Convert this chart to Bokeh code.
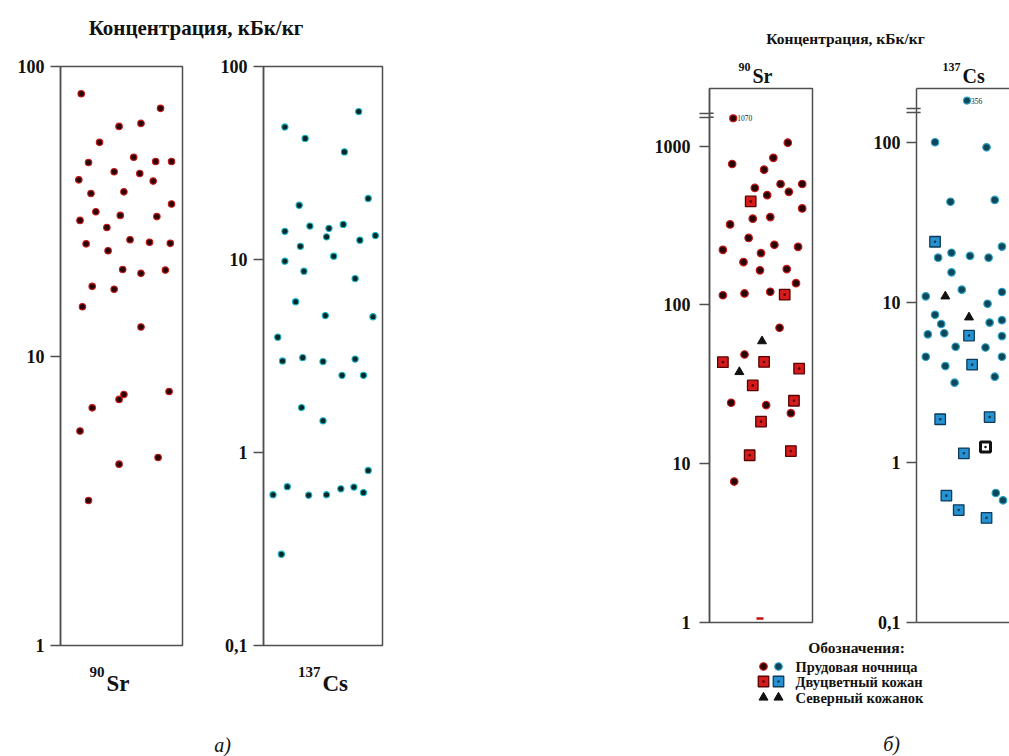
from bokeh.plotting import figure
from bokeh.layouts import row, column
from bokeh.models import FixedTicker, Range1d, CustomJSTickFormatter, LinearAxis
from bokeh.core.properties import value
from bokeh.embed import file_html
from bokeh.resources import INLINE

FONT = "Liberation Serif"

# ---------------- data (concentration, kBq/kg; jitter position across box, 0-100) ----------------
# panel а) 90Sr
sr_a_conc = [80.5, 71.7, 62.1, 63.6, 54.7, 46.6, 48.6, 47.0, 47.0, 40.6, 43.3, 42.7, 40.2, 36.4,
             36.9, 33.5, 31.5, 29.4, 30.6, 30.3, 27.8, 24.4, 25.2, 24.7, 24.5, 23.1, 19.9, 19.3,
             19.8, 17.4, 17.0, 14.8, 12.6, 7.36, 7.08, 7.54, 6.62, 5.51, 4.46, 4.23, 3.17]
sr_a_pos = [17, 82, 48, 66, 32, 23, 60, 78, 91, 15, 44, 65, 76, 25, 52, 91, 29, 16, 49, 79, 38,
            21, 57, 73, 90, 39, 51, 66, 86, 26, 44, 18, 66, 52, 48, 89, 26, 16, 80, 48, 23]
# panel а) 137Cs
cs_a_conc = [58.4, 48.6, 42.4, 36.1, 20.7, 19.1, 14.0, 14.9, 14.5, 15.2, 13.1, 11.7, 12.6, 13.3,
             9.8, 10.4, 8.7, 7.96, 6.04, 5.12, 5.05, 3.96, 2.98, 3.10, 2.96, 3.05, 2.51, 2.51,
             1.71, 1.46, 0.807, 0.604, 0.665, 0.601, 0.604, 0.648, 0.662, 0.620, 0.297]
cs_a_pos = [80, 18, 35, 68, 88, 30, 18, 39, 55, 67, 53, 31, 81, 94, 18, 59, 34, 77, 27, 52, 92,
            12, 16, 33, 50, 77, 66, 84, 32, 50, 88, 8, 20, 38, 53, 65, 76, 84, 15]

# panel б) 90Sr
sr_b_bat_conc = [1050, 771, 843, 710, 545, 577, 515, 577, 491, 405, 349, 357, 321, 264, 222, 212,
                 239, 232, 186, 165, 168, 137, 115, 118, 121, 71.8, 48.7, 24.2, 23.4, 20.8, 7.72]
sr_b_bat_pos = [76, 22, 62, 53, 44, 69, 77, 90, 56, 90, 42, 59, 20, 38, 13, 50, 63, 86, 33, 49,
                75, 84, 13, 34, 59, 68, 34, 21, 55, 79, 24]
sr_b_low_conc = [1.06]          # value drawn at the bottom of the box
sr_b_low_pos = [49]
sr_b_ves_conc = [448, 116, 43.6, 43.7, 39.7, 31.1, 24.9, 18.4, 11.3, 12.0]
sr_b_ves_pos = [40, 73, 13, 53, 87, 42, 82, 50, 39, 79]
sr_b_epn_conc = [59.1, 37.8]
sr_b_epn_pos = [51, 29]
sr_b_outlier_value = 1070
sr_b_outlier_pos = 23

# panel б) 137Cs
cs_b_bat_conc = [100, 93, 42.5, 43.6, 19.0, 20.4, 19.5, 19.0, 22.3, 15.4, 12.0, 10.9, 11.6, 9.8,
                 8.36, 7.32, 7.47, 7.74, 6.31, 6.41, 6.15, 5.28, 5.22, 4.57, 4.57, 4.0, 3.15, 3.43,
                 0.644, 0.58]
cs_b_bat_pos = [18, 68, 33, 76, 21, 34, 52, 70, 83, 34, 44, 9, 83, 69, 18, 24, 71, 83, 11, 27,
                83, 38, 67, 9, 83, 28, 37, 76, 77, 84]
cs_b_ves_conc = [23.9, 6.2, 4.08, 1.86, 1.92, 1.14, 0.62, 0.504, 0.45]
cs_b_ves_pos = [18, 51, 54, 23, 71, 46, 29, 41, 68]
cs_b_odd_conc = [1.25]
cs_b_odd_pos = [67]
cs_b_epn_conc = [10.9, 8.06]
cs_b_epn_pos = [28, 51]
cs_b_outlier_value = 356
cs_b_outlier_pos = 49

legend_names = ["Прудовая ночница", "Двуцветный кожан", "Северный кожанок"]

# ---------------- styles ----------------
AX = "#4f4f4f"
INK = "#111111"
RED_FILL, RED_LINE = "#2b0505", "#c81818"
CYA_FILL, CYA_LINE = "#032626", "#19b5c4"
SQR_FILL, SQR_LINE = "#d41c1c", "#5a0000"
BLU_FILL, BLU_LINE = "#0f4658", "#2aa3c6"
BSQ_FILL, BSQ_LINE = "#2792d2", "#0d3a58"
TRI = "#111111"

# axis-break display positions (where the off-scale values are drawn)
SR_B_BREAK, SR_B_OUT_Y = (1519, 1608), 1496
CS_B_BREAK, CS_B_OUT_Y = (153.6, 162.6), 182

FMT = """
const l = Math.log10(tick);
if (Math.abs(l - Math.round(l)) > 1e-6) { return ""; }
return String(tick).replace('.', ',');
"""


def box_fig(width, height, left, right, top, bottom, y0, y1, ticks, x1=100,
            outline=True, label_size="18px", standoff=6):
    p = figure(width=width, height=height, y_axis_type="log",
               x_range=Range1d(0, x1), y_range=Range1d(y0, y1),
               x_axis_location=None, output_backend="svg", toolbar_location=None,
               min_border_left=left, min_border_right=right,
               min_border_top=top, min_border_bottom=bottom)
    p.xgrid.visible = False
    p.ygrid.visible = False
    p.outline_line_color = AX if outline else None
    p.outline_line_width = 1.5
    ax = p.yaxis[0]
    ax.ticker = FixedTicker(ticks=ticks, minor_ticks=[])
    ax.formatter = CustomJSTickFormatter(code=FMT)
    ax.major_tick_out = 10
    ax.major_tick_in = 0
    ax.minor_tick_line_color = None
    ax.major_tick_line_color = AX
    ax.major_tick_line_width = 1.5
    ax.axis_line_color = AX
    ax.axis_line_width = 1.5
    ax.major_label_text_font = FONT
    ax.major_label_text_font_style = "bold"
    ax.major_label_text_font_size = label_size
    ax.major_label_text_color = INK
    ax.major_label_standoff = standoff
    return p


def canvas(width, height):
    p = figure(width=width, height=height, x_range=Range1d(0, width), y_range=Range1d(0, height),
               x_axis_location=None, y_axis_location=None, output_backend="svg",
               toolbar_location=None, min_border_left=0, min_border_right=0,
               min_border_top=0, min_border_bottom=0)
    p.outline_line_color = None
    p.xgrid.visible = False
    p.ygrid.visible = False
    return p


def put(p, x, y, text, size, align="left", style="bold"):
    p.text(x=[x], y=[y], text=[text], text_font=value(FONT), text_font_size=size,
           text_font_style=style, text_align=align, text_baseline="middle", text_color=INK)


# ---------------- panel а) ----------------
header_a = canvas(450, 50)
put(header_a, 195.5, 23, "Концентрация, кБк/кг", "21px", align="center")

fa_sr = box_fig(208, 610, 60, 26, 13, 14, 1, 100, [1, 10, 100])
fa_sr.scatter(sr_a_pos, sr_a_conc, marker="circle", size=6.5, fill_color=RED_FILL,
              line_color=RED_LINE, line_width=1.1)

fa_cs = box_fig(242, 610, 55, 68, 16, 15, 0.1, 100, [0.1, 1, 10, 100])
fa_cs.scatter(cs_a_pos, cs_a_conc, marker="circle", size=6.2, fill_color=CYA_FILL,
              line_color=CYA_LINE, line_width=1.1)

footer_a = canvas(450, 96)
put(footer_a, 104, 85, "90", "15px", align="right")
put(footer_a, 106, 73, "Sr", "23px")
put(footer_a, 320, 85, "137", "15px", align="right")
put(footer_a, 322, 73, "Cs", "23px")
put(footer_a, 222, 12, "а)", "20px", align="center", style="italic")

panel_a = column(header_a, row(fa_sr, fa_cs), footer_a)

# ---------------- panel б) ----------------
header_b = canvas(559, 86)
put(header_b, 395, 48, "Концентрация, кБк/кг", "15.5px", align="center")
put(header_b, 300, 20, "90", "12px", align="right")
put(header_b, 302, 11, "Sr", "20px")
put(header_b, 510, 20, "137", "12px", align="right")
put(header_b, 512, 11, "Cs", "20px")

SR_B_TOP = 2304
fb_sr = box_fig(390, 550, 259, 28, 2, 10, 1, SR_B_TOP, [1, 10, 100, 1000, *SR_B_BREAK],
                standoff=9)
fb_sr.segment(x0=[0, 0], y0=list(SR_B_BREAK), x1=[4, 4], y1=list(SR_B_BREAK),
              line_color=AX, line_width=1.5)
fb_sr.scatter(sr_b_bat_pos, sr_b_bat_conc, marker="circle", size=7.5, fill_color=RED_FILL,
              line_color=RED_LINE, line_width=1.2)
fb_sr.scatter(sr_b_ves_pos, sr_b_ves_conc, marker="square_dot", size=10.5, fill_color=SQR_FILL,
              line_color=SQR_LINE, line_width=1.3)
fb_sr.scatter(sr_b_epn_pos, sr_b_epn_conc, marker="triangle", size=9, fill_color=TRI,
              line_color=TRI)
fb_sr.scatter(sr_b_low_pos, sr_b_low_conc, marker="dash", size=7, line_color="#c01010",
              line_width=2.5)
fb_sr.scatter([sr_b_outlier_pos], [SR_B_OUT_Y], marker="circle", size=7, fill_color=RED_FILL,
              line_color=RED_LINE, line_width=1.2)
fb_sr.text(x=[sr_b_outlier_pos], y=[SR_B_OUT_Y], text=[str(sr_b_outlier_value)], x_offset=4,
           text_font=value(FONT), text_font_size="7.5px", text_baseline="middle",
           text_color="#222222")

CS_B_TOP = 216.6
fb_cs = box_fig(169, 550, 76, 0, 2, 14, 0.1, CS_B_TOP, [0.1, 1, 10, 100, *CS_B_BREAK],
                x1=90.3, outline=False, standoff=6)
for loc in ("above", "below"):
    edge = LinearAxis(ticker=FixedTicker(ticks=[]), axis_line_color=AX, axis_line_width=1.5,
                      major_tick_line_color=None, minor_tick_line_color=None,
                      major_label_text_font_size="0px")
    fb_cs.add_layout(edge, loc)
fb_cs.segment(x0=[0, 0], y0=list(CS_B_BREAK), x1=[4, 4], y1=list(CS_B_BREAK),
              line_color=AX, line_width=1.5)
fb_cs.scatter(cs_b_bat_pos, cs_b_bat_conc, marker="circle", size=7.5, fill_color=BLU_FILL,
              line_color=BLU_LINE, line_width=1.2)
fb_cs.scatter(cs_b_ves_pos, cs_b_ves_conc, marker="square_dot", size=10.5, fill_color=BSQ_FILL,
              line_color=BSQ_LINE, line_width=1.3)
fb_cs.scatter(cs_b_odd_pos, cs_b_odd_conc, marker="square_dot", size=10, fill_color="#ffffff",
              line_color="#111111", line_width=3)
fb_cs.scatter(cs_b_epn_pos, cs_b_epn_conc, marker="triangle", size=9, fill_color=TRI,
              line_color=TRI)
fb_cs.scatter([cs_b_outlier_pos], [CS_B_OUT_Y], marker="circle", size=7, fill_color=BLU_FILL,
              line_color=BLU_LINE, line_width=1.2)
fb_cs.text(x=[cs_b_outlier_pos], y=[CS_B_OUT_Y], text=[str(cs_b_outlier_value)], x_offset=4,
           text_font=value(FONT), text_font_size="7.5px", text_baseline="middle",
           text_color="#222222")

footer_b = canvas(559, 120)
put(footer_b, 406, 109, "Обозначения:", "15.5px", align="center")
leg_y = [90, 75, 59]
footer_b.scatter([313], [leg_y[0]], marker="circle", size=7.5, fill_color=RED_FILL,
                 line_color=RED_LINE, line_width=1.2)
footer_b.scatter([328], [leg_y[0]], marker="circle", size=7.5, fill_color=BLU_FILL,
                 line_color=BLU_LINE, line_width=1.2)
footer_b.scatter([313], [leg_y[1]], marker="square_dot", size=10.5, fill_color=SQR_FILL,
                 line_color=SQR_LINE, line_width=1.3)
footer_b.scatter([328], [leg_y[1]], marker="square_dot", size=10.5, fill_color=BSQ_FILL,
                 line_color=BSQ_LINE, line_width=1.3)
footer_b.scatter([313, 328], [leg_y[2], leg_y[2]], marker="triangle", size=9, fill_color=TRI,
                 line_color=TRI)
footer_b.text(x=[345, 345, 345], y=leg_y, text=legend_names, text_font=value(FONT),
              text_font_size="14.5px", text_font_style="bold", text_baseline="middle",
              text_color=INK)
put(footer_b, 441, 13, "б)", "20px", align="center", style="italic")

panel_b = column(header_b, row(fb_sr, fb_cs), footer_b)

page = row(panel_a, panel_b)
open("out.html", "w").write(file_html(page, INLINE))
